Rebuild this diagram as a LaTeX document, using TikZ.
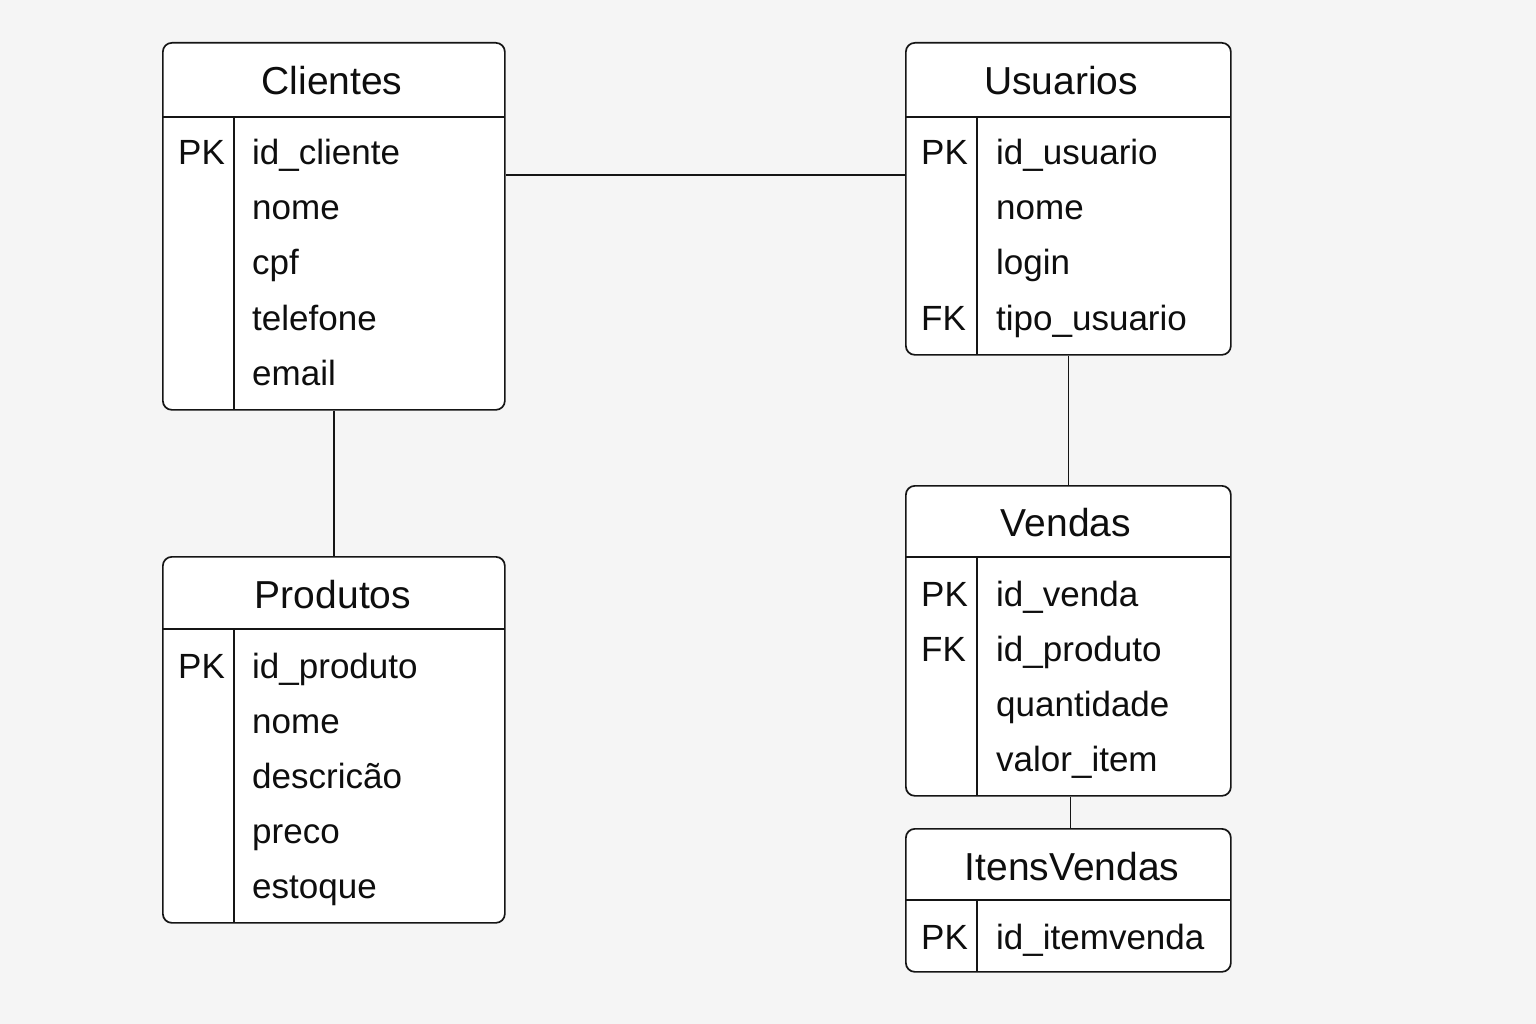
\documentclass[tikz,border=0pt]{standalone}
\usepackage{fontspec}
\setmainfont{Liberation Sans}
\begin{document}
\begin{tikzpicture}[x=1pt,y=-1pt,
  tbl/.style={draw=linec, line width=1.7pt, rounded corners=9pt, fill=white, inner sep=0pt, anchor=north west},
  sep/.style={draw=linec, line width=1.5pt},
  conn/.style={draw=linec, line width=1.6pt},
  hdr/.style={font=\fontsize{39}{43}\selectfont, text=txtc, anchor=base, inner sep=0pt},
  fld/.style={font=\fontsize{35}{39}\selectfont, text=txtc, anchor=base west, inner sep=0pt}]
\definecolor{linec}{HTML}{151515}
\definecolor{txtc}{HTML}{0E0E0E}
\definecolor{bgc}{HTML}{F5F5F5}
\fill[bgc] (0,0) rectangle (1536,1024);
\useasboundingbox (0,0) rectangle (1536,1024);

% Clientes
\node[tbl, minimum width=342pt, minimum height=367pt] (cli) at (162,42) {};
\draw[sep] (162,117) -- (504,117);
\draw[sep] (234,117) -- (234,409);
\node[hdr] (clit) at (332,95) {Clientes};
\node[fld] (clik1) at (178,165) {PK};
\node[fld] (clif1) at (252,165) {id\_cliente};
\node[fld] (clif2) at (252,220) {nome};
\node[fld] (clif3) at (252,275) {cpf};
\node[fld] (clif4) at (252,330) {telefone};
\node[fld] (clif5) at (252,385) {email};

% Usuarios
\node[tbl, minimum width=325pt, minimum height=312pt] (usu) at (905,42) {};
\draw[sep] (905,117) -- (1230,117);
\draw[sep] (977,117) -- (977,354);
\node[hdr] (usut) at (1061,95) {Usuarios};
\node[fld] (usuk1) at (921,165) {PK};
\node[fld] (usuf1) at (996,165) {id\_usuario};
\node[fld] (usuf2) at (996,220) {nome};
\node[fld] (usuf3) at (996,275) {login};
\node[fld] (usuk4) at (921,330) {FK};
\node[fld] (usuf4) at (996,330) {tipo\_usuario};

% Produtos
\node[tbl, minimum width=342pt, minimum height=366pt] (pro) at (162,556) {};
\draw[sep] (162,629) -- (504,629);
\draw[sep] (234,629) -- (234,922);
\node[hdr] (prot) at (333,608) {Produtos};
\node[fld] (prok1) at (178,678) {PK};
\node[fld] (prof1) at (252,678) {id\_produto};
\node[fld] (prof2) at (252,733) {nome};
\node[fld] (prof3) at (252,788) {descricão};
\node[fld] (prof4) at (252,843) {preco};
\node[fld] (prof5) at (252,898) {estoque};

% Vendas
\node[tbl, minimum width=325pt, minimum height=310pt] (ven) at (905,485) {};
\draw[sep] (905,557) -- (1230,557);
\draw[sep] (977,557) -- (977,795);
\node[hdr] (vent) at (1066,536) {Vendas};
\node[fld] (venk1) at (921,606) {PK};
\node[fld] (venf1) at (996,606) {id\_venda};
\node[fld] (venk2) at (921,661) {FK};
\node[fld] (venf2) at (996,661) {id\_produto};
\node[fld] (venf3) at (996,716) {quantidade};
\node[fld] (venf4) at (996,771) {valor\_item};

% ItensVendas
\node[tbl, minimum width=325pt, minimum height=143pt] (itv) at (905,828) {};
\draw[sep] (905,900) -- (1230,900);
\draw[sep] (977,900) -- (977,971);
\node[hdr] (itvt) at (1072,880) {ItensVendas};
\node[fld] (itvk1) at (921,949) {PK};
\node[fld] (itvf1) at (996,949) {id\_itemvenda};

% connectors
\draw[conn] ([yshift=-133pt]cli.north east) -- ([yshift=-133pt]usu.north west);
\draw[conn] (cli.south) -- (pro.north);
\draw[conn] (usu.south) -- (ven.north);
\draw[conn] ([xshift=2pt]ven.south) -- ([xshift=2pt]itv.north);
\end{tikzpicture}
\end{document}
